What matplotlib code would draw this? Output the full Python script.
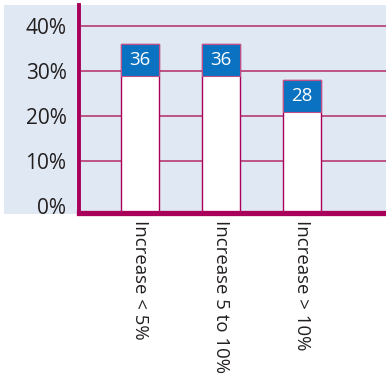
import matplotlib
matplotlib.use("Agg")
import matplotlib.pyplot as plt
from matplotlib.patches import Rectangle

categories = ["Increase < 5%", "Increase 5 to 10%", "Increase > 10%"]
values = [36, 36, 28]
yticks = [0, 10, 20, 30, 40]
ytick_labels = ["0%", "10%", "20%", "30%", "40%"]

crimson = "#a8005a"
grid_col = "#b83a74"
blue = "#0a72c0"
panel = "#dfe8f3"
text_col = "#231f20"

W, H = 386, 381
fig = plt.figure(figsize=(W / 100, H / 100), dpi=100)
fig.patch.set_facecolor("white")

# light panel behind the plot and the y tick labels
fig.patches.append(Rectangle((4 / W, (H - 214) / H), 1 - 4 / W, (214 - 5) / H,
                             transform=fig.transFigure, facecolor=panel,
                             edgecolor="none", zorder=-10))

ax = fig.add_axes([79 / W, (H - 213) / H, 1 - 79 / W, (213 - 5) / H])
ax.set_facecolor("none")

ymin, ymax = -1.55, 44.7
ax.set_ylim(ymin, ymax)
ax.set_xlim(-0.753, 3.037)

x = list(range(len(categories)))
bw = 0.47
ax.bar(x, [v - ymin for v in values], bottom=ymin, width=bw, color="white",
       edgecolor=crimson, linewidth=1.0, zorder=2)

box_h = 7.0
for xi, v in zip(x, values):
    ax.add_patch(Rectangle((xi - bw / 2, v - box_h), bw, box_h, facecolor=blue,
                           edgecolor="#c0508a", linewidth=0.8, zorder=3))
    ax.text(xi, v - box_h / 2, f"{v}", color="white", ha="center", va="center",
            fontsize=13.5, family="Open Sans", zorder=4)

for t in yticks[1:]:
    ax.axhline(t, color=grid_col, linewidth=1.2, zorder=1)

ax.set_yticks(yticks)
ax.set_yticklabels(ytick_labels, fontsize=15, family="Open Sans", color=text_col)
ax.set_xticks(x)
ax.set_xticklabels(categories, rotation=-90, fontsize=13.4, family="Open Sans",
                   color=text_col, va="top", ha="center")
ax.tick_params(axis="y", length=0, pad=9)
ax.tick_params(axis="x", length=0, pad=5)

for side in ("top", "right"):
    ax.spines[side].set_visible(False)
ax.spines["left"].set_color(crimson)
ax.spines["left"].set_linewidth(2.8)
ax.spines["bottom"].set_color(crimson)
ax.spines["bottom"].set_linewidth(3.8)
for s in ax.spines.values():
    s.set_zorder(5)

fig.savefig("out.png", dpi=100, facecolor=fig.get_facecolor())
